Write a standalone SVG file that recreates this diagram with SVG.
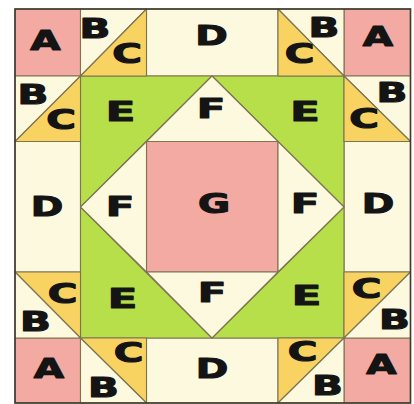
<svg xmlns="http://www.w3.org/2000/svg" width="414" height="404" viewBox="0 0 414 404">
<style>
.a{fill:#f3aaa2}
.b{fill:#fdf9de}
.c{fill:#f8d362}
.e{fill:#b6df4a}
.p{stroke:#7d7452;stroke-width:1.1;stroke-linejoin:round}
.t{font-family:"DejaVu Sans","Liberation Sans",sans-serif;font-weight:bold;font-size:27px;fill:#141414;stroke:#141414;stroke-width:1.1;stroke-linejoin:round;text-anchor:middle}
</style>
<rect x="0" y="0" width="414" height="404" fill="#ffffff"/>
<g id="A1"><rect class="a p" x="15" y="9" width="65.5" height="67"/><text class="t" transform="translate(45.5,49.5) scale(1.45,1)">A</text></g>
<g id="A2"><rect class="a p" x="344" y="9" width="66.5" height="67"/><text class="t" transform="translate(378,46) scale(1.45,1)">A</text></g>
<g id="A3"><rect class="a p" x="15" y="338" width="65.5" height="65"/><text class="t" transform="translate(49,377.5) scale(1.45,1)">A</text></g>
<g id="A4"><rect class="a p" x="344" y="338" width="66.5" height="65"/><text class="t" transform="translate(381.5,373.5) scale(1.45,1)">A</text></g>
<g id="D1"><rect class="b p" x="146.5" y="9" width="131.5" height="67"/><text class="t" transform="translate(211.5,45) scale(1.45,1)">D</text></g>
<g id="D2"><rect class="b p" x="15" y="141.5" width="65.5" height="130.5"/><text class="t" transform="translate(47,216) scale(1.45,1)">D</text></g>
<g id="D3"><rect class="b p" x="344" y="141.5" width="66.5" height="130.5"/><text class="t" transform="translate(378,213) scale(1.45,1)">D</text></g>
<g id="D4"><rect class="b p" x="146.5" y="338" width="131.5" height="65"/><text class="t" transform="translate(212,378) scale(1.45,1)">D</text></g>
<g id="G"><rect class="a p" x="146.5" y="141.5" width="131.5" height="130.5"/><text class="t" transform="translate(214,212.5) scale(1.45,1)">G</text></g>
<g id="E1"><polygon class="e p" points="80.5,76 212,76 80.5,207"/><text class="t" transform="translate(120.5,120.5) scale(1.6,1)">E</text></g>
<g id="E2"><polygon class="e p" points="212,76 344,76 344,207"/><text class="t" transform="translate(305,120.5) scale(1.6,1)">E</text></g>
<g id="E3"><polygon class="e p" points="344,207 344,338 212,338"/><text class="t" transform="translate(306.5,305) scale(1.6,1)">E</text></g>
<g id="E4"><polygon class="e p" points="80.5,207 212,338 80.5,338"/><text class="t" transform="translate(122.5,307.5) scale(1.6,1)">E</text></g>
<g id="F1"><polygon class="b p" points="146.5,141.5 212,76 278,141.5"/><text class="t" transform="translate(211,118) scale(1.55,1)">F</text></g>
<g id="F2"><polygon class="b p" points="278,141.5 344,207 278,272"/><text class="t" transform="translate(305,213) scale(1.55,1)">F</text></g>
<g id="F3"><polygon class="b p" points="278,272 212,338 146.5,272"/><text class="t" transform="translate(212,302) scale(1.55,1)">F</text></g>
<g id="F4"><polygon class="b p" points="146.5,272 80.5,207 146.5,141.5"/><text class="t" transform="translate(120,216) scale(1.55,1)">F</text></g>
<g id="B1"><polygon class="b p" points="80.5,9 146.5,9 80.5,76"/><text class="t" transform="translate(95,37.5) scale(1.5,1)">B</text></g>
<g id="C1"><polygon class="c p" points="146.5,9 146.5,76 80.5,76"/><text class="t" transform="translate(127,63) scale(1.5,1)">C</text></g>
<g id="B2"><polygon class="b p" points="278,9 344,9 344,76"/><text class="t" transform="translate(324,37) scale(1.5,1)">B</text></g>
<g id="C2"><polygon class="c p" points="278,9 344,76 278,76"/><text class="t" transform="translate(299.5,62.5) scale(1.5,1)">C</text></g>
<g id="B3"><polygon class="b p" points="15,76 80.5,76 15,141.5"/><text class="t" transform="translate(33,104) scale(1.5,1)">B</text></g>
<g id="C3"><polygon class="c p" points="80.5,76 80.5,141.5 15,141.5"/><text class="t" transform="translate(61,129) scale(1.5,1)">C</text></g>
<g id="B4"><polygon class="b p" points="344,76 410.5,76 410.5,141.5"/><text class="t" transform="translate(392,102) scale(1.5,1)">B</text></g>
<g id="C4"><polygon class="c p" points="344,76 410.5,141.5 344,141.5"/><text class="t" transform="translate(364,127.5) scale(1.5,1)">C</text></g>
<g id="C5"><polygon class="c p" points="15,272 80.5,272 80.5,338"/><text class="t" transform="translate(62.5,303) scale(1.5,1)">C</text></g>
<g id="B5"><polygon class="b p" points="15,272 80.5,338 15,338"/><text class="t" transform="translate(35.5,331) scale(1.5,1)">B</text></g>
<g id="C6"><polygon class="c p" points="344,272 410.5,272 344,338"/><text class="t" transform="translate(366.5,298) scale(1.5,1)">C</text></g>
<g id="B6"><polygon class="b p" points="410.5,272 410.5,338 344,338"/><text class="t" transform="translate(394.5,329) scale(1.5,1)">B</text></g>
<g id="C7"><polygon class="c p" points="80.5,338 146.5,338 146.5,403"/><text class="t" transform="translate(128.5,362) scale(1.5,1)">C</text></g>
<g id="B7"><polygon class="b p" points="80.5,338 146.5,403 80.5,403"/><text class="t" transform="translate(103.5,397) scale(1.5,1)">B</text></g>
<g id="C8"><polygon class="c p" points="278,338 344,338 278,403"/><text class="t" transform="translate(302.5,361) scale(1.5,1)">C</text></g>
<g id="B8"><polygon class="b p" points="344,338 344,403 278,403"/><text class="t" transform="translate(327.5,395) scale(1.5,1)">B</text></g>
<g id="connectors"><rect x="15" y="9" width="395.5" height="394" fill="none" stroke="#3e3a30" stroke-width="1.6"/></g>
</svg>
